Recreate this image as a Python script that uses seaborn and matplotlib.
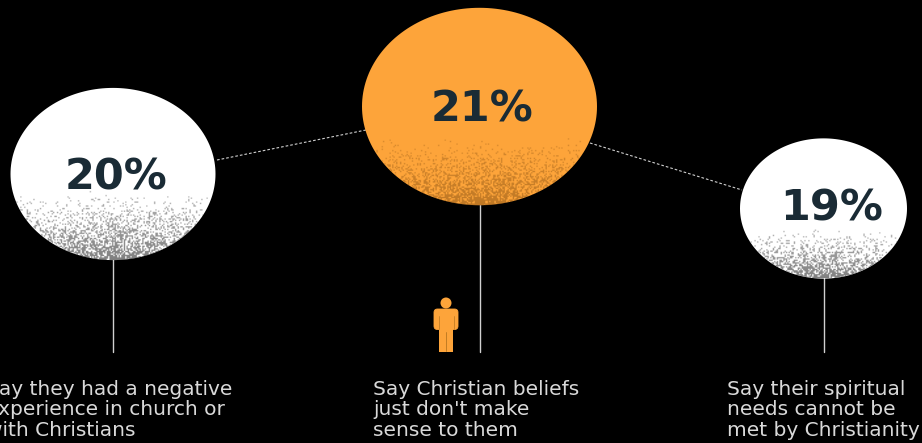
import numpy as np
import pandas as pd
import matplotlib
matplotlib.use("Agg")
import matplotlib.pyplot as plt
from matplotlib.path import Path
from matplotlib.patches import Ellipse, FancyBboxPatch, Rectangle
import seaborn as sns

# Survey shares
reasons = ["negative experience", "beliefs make no sense", "needs not met"]
shares = [20, 21, 19]
captions = [
    "Say they had a negative\nexperience in church or\nwith Christians",
    "Say Christian beliefs\njust don't make\nsense to them",
    "Say their spiritual\nneeds cannot be\nmet by Christianity",
]

# Layout in pixel units
centers_x = [113, 479.5, 823.5]
centers_y = [174, 106.5, 208.5]
widths = [205, 235, 167]
heights = [173, 198, 140]
caption_x = [-14, 373, 727]
bubble_colors = ["#ffffff", "#fda43a", "#ffffff"]
grain_colors = ["#333333", "#6b3c08", "#333333"]
grain_start = [0.2, 0.32, 0.3]
grain_alpha = [0.62, 0.42, 0.62]
label_dx = [2.5, 2.5, 8.5]
label_dy = [3, 2.5, -0.5]
BG = "#000000"
INK = "#1a2b35"
LINE = "#d0d0d0"
TEXT = "#d9d9d9"

sns.set_theme(style="white", rc={"figure.facecolor": BG, "axes.facecolor": BG})
fig = plt.figure(figsize=(9.22, 4.43), dpi=100)
ax = fig.add_axes([0, 0, 1, 1])

# Connectors
for xs, ys in [((217, 366), (160, 130)), ((590, 742), (143, 190))]:
    ax.plot(xs, ys, color=LINE, lw=0.8, ls=(0, (2.4, 1.8)), zorder=1)
for cx, cy, h in zip(centers_x, centers_y, heights):
    ax.plot([cx, cx], [cy + h / 2 - 2, 352], color=LINE, lw=1.0, zorder=1)

# Bubbles: a squashed circle marker, sized per reason
theta = np.linspace(0, 2 * np.pi, 181)
oval = Path(np.column_stack([np.cos(theta), 0.84 * np.sin(theta)]), closed=True)
frame = pd.DataFrame({"reason": reasons, "x": centers_x, "y": centers_y, "share": shares})
px_to_pt = 72 / fig.dpi
sns.scatterplot(
    data=frame, x="x", y="y", hue="reason", size="reason", ax=ax, marker=oval,
    palette=dict(zip(reasons, bubble_colors)),
    sizes={r: (w * px_to_pt) ** 2 for r, w in zip(reasons, widths)},
    linewidth=0, legend=False, zorder=2,
)

# Stippled shading along the lower edge of each bubble
texture = np.random.default_rng(7)
for cx, cy, w, h, grain, start, alpha in zip(
    centers_x, centers_y, widths, heights, grain_colors, grain_start, grain_alpha
):
    nx, ny = int(w / 1.3), int(h / 1.3)
    xx, yy = np.meshgrid(np.linspace(-1, 1, nx), np.linspace(-1, 1, ny))
    depth = np.clip((yy - start) / (1 - start), 0, 1)
    density = depth ** 1.3 * (1.0 - 0.4 * np.abs(xx)) * 0.85
    dots = texture.random((ny, nx)) < density
    rgba = np.zeros((ny, nx, 4))
    rgba[..., :3] = matplotlib.colors.to_rgb(grain)
    rgba[..., 3] = dots * alpha * (0.6 + 0.4 * depth)
    im = ax.imshow(rgba, extent=(cx - w / 2, cx + w / 2, cy + h / 2, cy - h / 2),
                   interpolation="bilinear", aspect="auto", zorder=3)
    im.set_clip_path(Ellipse((cx, cy), w, h, transform=ax.transData))

# Share labels and captions
for cx, cy, v, dx, dy in zip(centers_x, centers_y, shares, label_dx, label_dy):
    ax.text(cx + dx, cy + dy, f"{v}%", color=INK, fontsize=31, fontweight="bold",
            family="DejaVu Sans", ha="center", va="center", zorder=4)
for x, caption in zip(caption_x, captions):
    ax.text(x, 380, caption, color=TEXT, fontsize=14.5, family="DejaVu Sans",
            ha="left", va="top", linespacing=1.09, zorder=4)

# Person icon
orange = bubble_colors[1]
ax.add_patch(Ellipse((446, 303), 11, 11, color=orange, lw=0, zorder=4))
ax.add_patch(FancyBboxPatch((434, 309), 24, 20.5, boxstyle="round,pad=0,rounding_size=3.5",
                            fc=orange, ec=orange, lw=0.6, zorder=4))
ax.add_patch(Rectangle((439, 320), 14, 31.5, fc=orange, ec="none", zorder=4))
ax.plot([446, 446], [332, 351], color="#b8761f", lw=0.6, zorder=5)
for x in (438.5, 453.5):
    ax.plot([x, x], [316, 329], color="#b8761f", lw=0.5, zorder=5)

ax.set_xlim(0, 922)
ax.set_ylim(443, 0)
ax.axis("off")

fig.savefig("out.png", dpi=100, facecolor=BG)
